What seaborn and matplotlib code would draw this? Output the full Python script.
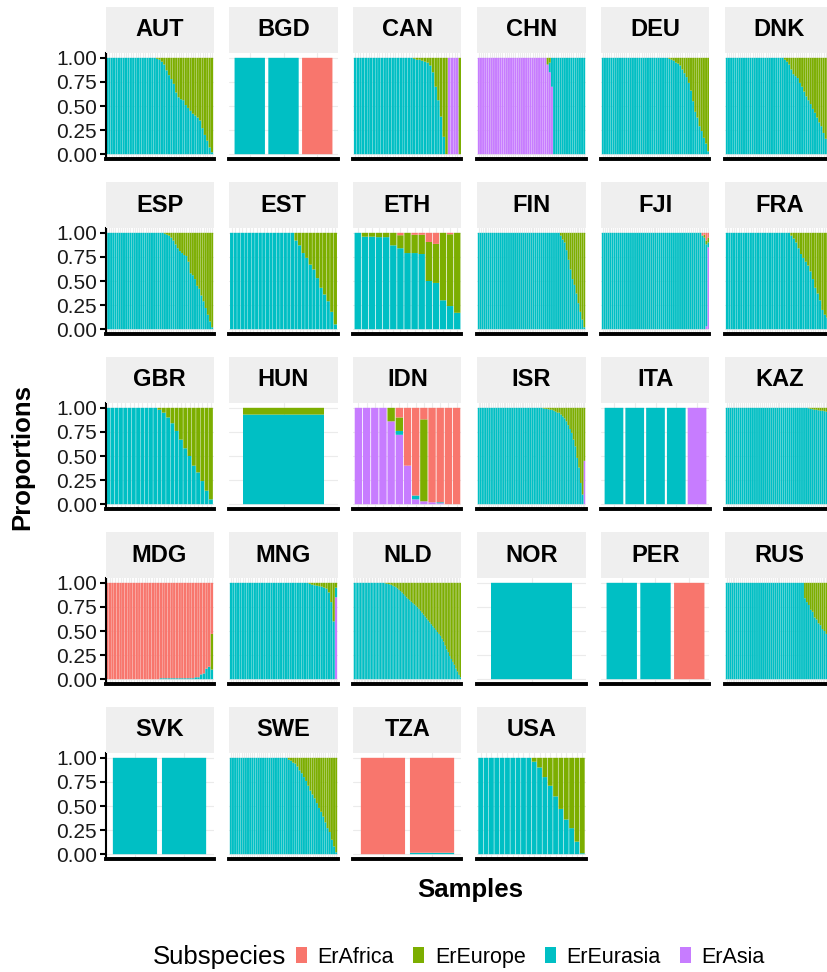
import numpy as np
import pandas as pd
import matplotlib
matplotlib.use("Agg")
import matplotlib.pyplot as plt
from matplotlib.patches import Patch
import seaborn as sns

# Legend / stacking order: first level sits on top of each bar
SUBSPECIES = ["ErAfrica", "ErEurope", "ErEurasia", "ErAsia"]
COLORS = ["#F8766D", "#7CAE00", "#00BFC4", "#C77CFF"]

COUNTRIES = ["AUT", "BGD", "CAN", "CHN", "DEU", "DNK",
             "ESP", "EST", "ETH", "FIN", "FJI", "FRA",
             "GBR", "HUN", "IDN", "ISR", "ITA", "KAZ",
             "MDG", "MNG", "NLD", "NOR", "PER", "RUS",
             "SVK", "SWE", "TZA", "USA"]

Y_TICKS = [0.0, 0.25, 0.5, 0.75, 1.0]
Y_TICK_LABELS = ["0.00", "0.25", "0.50", "0.75", "1.00"]

# Ancestry proportions per sample (samples in plotting order).
# ErEurope takes whatever share the listed components leave.
AUT_EURASIA = [1.0] * 21 + [0.99, 0.98, 0.96, 0.93, 0.87, 0.82, 0.78, 0.73, 0.64, 0.59,
                            0.57, 0.56, 0.51, 0.48, 0.45, 0.42, 0.40, 0.38, 0.35, 0.27,
                            0.20, 0.14, 0.07, 0.02]
BGD_EURASIA = [1.0, 1.0, 0.0]
BGD_AFRICA = [0.0, 0.0, 1.0]
CAN_EURASIA = [1.0] * 22 + [0.99, 0.98, 0.98, 0.97, 0.96, 0.95, 0.92, 0.85, 0.70, 0.56,
                            0.39, 0.18, 0.0, 0.0, 0.0, 0.0, 0.0, 0.0]
CAN_ASIA = [0.0] * 35 + [1.0, 1.0, 1.0, 1.0, 0.0]
CHN_ASIA = [1.0] * 32 + [0.93, 0.85, 0.70] + [0.0] * 15
CHN_EURASIA = [0.0] * 32 + [0.0, 0.10, 0.30] + [1.0] * 15
DEU_EURASIA = [1.0] * 31 + [0.99, 0.98, 0.97, 0.95, 0.94, 0.92, 0.88, 0.84, 0.80, 0.74,
                            0.66, 0.55, 0.44, 0.38, 0.29, 0.24, 0.17, 0.11, 0.03]
DNK_EURASIA = [1.0] * 27 + [0.98, 0.96, 0.93, 0.88, 0.83, 0.81, 0.79, 0.74, 0.70, 0.65,
                            0.60, 0.56, 0.52, 0.47, 0.43, 0.38, 0.33, 0.29, 0.22, 0.16,
                            0.11, 0.06, 0.02]
ESP_EURASIA = [1.0] * 27 + [0.99, 0.98, 0.97, 0.95, 0.92, 0.88, 0.84, 0.81, 0.79, 0.77,
                            0.76, 0.70, 0.58, 0.56, 0.52, 0.45, 0.42, 0.35, 0.29, 0.22,
                            0.15, 0.08, 0.02]
EST_EURASIA = [1.0] * 18 + [0.92, 0.87, 0.79, 0.74, 0.67, 0.62, 0.53, 0.43, 0.36, 0.29,
                            0.18, 0.05]
ETH_EURASIA = [1.0, 0.96, 0.96, 0.955, 0.955, 0.87, 0.84, 0.79, 0.79, 0.78,
               0.50, 0.48, 0.30, 0.24, 0.17]
ETH_AFRICA = [0.0, 0.0, 0.0, 0.0, 0.0, 0.0, 0.025, 0.0, 0.02, 0.02,
              0.095, 0.115, 0.0, 0.015, 0.0]
FIN_EURASIA = [1.0] * 42 + [0.97, 0.93, 0.90, 0.82, 0.72, 0.62, 0.52, 0.46, 0.37, 0.27,
                            0.18, 0.10, 0.02]
FJI_EURASIA = [1.0] * 51 + [0.97, 0.95, 0.85, 0.05]
FJI_AFRICA = [0.0] * 51 + [0.03, 0.02, 0.08, 0.05]
FJI_ASIA = [0.0] * 51 + [0.0, 0.0, 0.03, 0.85]
FRA_EURASIA = [1.0] * 27 + [0.97, 0.94, 0.90, 0.84, 0.78, 0.74, 0.70, 0.66, 0.60, 0.52,
                            0.43, 0.37, 0.30, 0.20, 0.15, 0.12, 0.08, 0.03]
GBR_EURASIA = [1.0] * 12 + [0.98, 0.95, 0.90, 0.84, 0.76, 0.67, 0.58, 0.50, 0.40, 0.33,
                            0.24, 0.14, 0.05]
HUN_EURASIA = [0.93]
IDN_ASIA = [1.0, 1.0, 1.0, 1.0, 0.86, 0.72, 0.40, 0.05, 0.03, 0.02, 0.01, 0.0, 0.0]
IDN_AFRICA = [0.0, 0.0, 0.0, 0.0, 0.0, 0.10, 0.60, 0.91, 0.12, 0.98, 0.98, 1.0, 1.0]
IDN_EURASIA = [0.0, 0.0, 0.0, 0.0, 0.0, 0.04, 0.0, 0.04, 0.0, 0.0, 0.01, 0.0, 0.0]
ISR_EURASIA = [1.0] * 36 + [0.995, 0.99, 0.99, 0.985, 0.98, 0.98, 0.97, 0.96, 0.95, 0.95,
                            0.93, 0.91, 0.89, 0.86, 0.82, 0.78, 0.74, 0.67, 0.60, 0.48,
                            0.38, 0.22, 0.10, 0.0]
ISR_ASIA = [0.0] * 59 + [0.45]
ITA_EURASIA = [1.0, 1.0, 1.0, 1.0, 0.0]
ITA_ASIA = [0.0, 0.0, 0.0, 0.0, 1.0]
KAZ_EURASIA = [1.0] * 42 + [0.995, 0.99, 0.985, 0.98, 0.98, 0.975, 0.97, 0.97, 0.965, 0.96,
                            0.96, 0.95, 0.94]
MDG_EURASIA = [0.0] * 20 + [0.01] * 13 + [0.02, 0.02, 0.05, 0.06, 0.11, 0.13, 0.10]
MDG_AFRICA = [1.0] * 20 + [0.99] * 13 + [0.98, 0.98, 0.95, 0.94, 0.89, 0.87, 0.53]
MNG_EURASIA = [1.0] * 33 + [0.99, 0.98, 0.975, 0.97, 0.965, 0.96, 0.95, 0.94, 0.90, 0.80,
                            0.60, 0.10]
MNG_ASIA = [0.0] * 44 + [0.85]
NLD_EURASIA = [1.0] * 20 + [0.995, 0.99, 0.988, 0.984, 0.98, 0.97, 0.963, 0.955, 0.943, 0.928,
                            0.914, 0.90, 0.883, 0.865, 0.848, 0.833, 0.819, 0.804, 0.79, 0.776,
                            0.762, 0.747, 0.73, 0.71, 0.69, 0.67, 0.65, 0.63, 0.61, 0.59,
                            0.57, 0.55, 0.53, 0.51, 0.49, 0.47, 0.45, 0.42, 0.39, 0.35,
                            0.31, 0.28, 0.24, 0.21, 0.18, 0.15, 0.11, 0.08, 0.045, 0.02]
NOR_EURASIA = [1.0]
PER_EURASIA = [1.0, 1.0, 0.0]
PER_AFRICA = [0.0, 0.0, 1.0]
RUS_EURASIA = [1.0] * 40 + [0.84, 0.80, 0.77, 0.72, 0.70, 0.64, 0.62, 0.58, 0.56, 0.52,
                            0.50, 0.47, 0.45, 0.43, 0.40]
SVK_EURASIA = [1.0, 1.0]
SWE_EURASIA = [1.0] * 27 + [0.98, 0.97, 0.95, 0.94, 0.91, 0.87, 0.84, 0.80, 0.76, 0.71,
                            0.66, 0.62, 0.58, 0.53, 0.48, 0.44, 0.39, 0.33, 0.27, 0.23,
                            0.15, 0.08, 0.02]
TZA_AFRICA = [1.0, 0.985]
TZA_EURASIA = [0.0, 0.015]
USA_EURASIA = [1.0] * 10 + [0.96, 0.90, 0.80, 0.71, 0.60, 0.47, 0.36, 0.27, 0.13, 0.01]

COMPONENTS = {
    "AUT": {"ErEurasia": AUT_EURASIA},
    "BGD": {"ErEurasia": BGD_EURASIA, "ErAfrica": BGD_AFRICA},
    "CAN": {"ErEurasia": CAN_EURASIA, "ErAsia": CAN_ASIA},
    "CHN": {"ErEurasia": CHN_EURASIA, "ErAsia": CHN_ASIA},
    "DEU": {"ErEurasia": DEU_EURASIA},
    "DNK": {"ErEurasia": DNK_EURASIA},
    "ESP": {"ErEurasia": ESP_EURASIA},
    "EST": {"ErEurasia": EST_EURASIA},
    "ETH": {"ErEurasia": ETH_EURASIA, "ErAfrica": ETH_AFRICA},
    "FIN": {"ErEurasia": FIN_EURASIA},
    "FJI": {"ErEurasia": FJI_EURASIA, "ErAfrica": FJI_AFRICA, "ErAsia": FJI_ASIA},
    "FRA": {"ErEurasia": FRA_EURASIA},
    "GBR": {"ErEurasia": GBR_EURASIA},
    "HUN": {"ErEurasia": HUN_EURASIA},
    "IDN": {"ErEurasia": IDN_EURASIA, "ErAfrica": IDN_AFRICA, "ErAsia": IDN_ASIA},
    "ISR": {"ErEurasia": ISR_EURASIA, "ErAsia": ISR_ASIA},
    "ITA": {"ErEurasia": ITA_EURASIA, "ErAsia": ITA_ASIA},
    "KAZ": {"ErEurasia": KAZ_EURASIA},
    "MDG": {"ErEurasia": MDG_EURASIA, "ErAfrica": MDG_AFRICA},
    "MNG": {"ErEurasia": MNG_EURASIA, "ErAsia": MNG_ASIA},
    "NLD": {"ErEurasia": NLD_EURASIA},
    "NOR": {"ErEurasia": NOR_EURASIA},
    "PER": {"ErEurasia": PER_EURASIA, "ErAfrica": PER_AFRICA},
    "RUS": {"ErEurasia": RUS_EURASIA},
    "SVK": {"ErEurasia": SVK_EURASIA},
    "SWE": {"ErEurasia": SWE_EURASIA},
    "TZA": {"ErEurasia": TZA_EURASIA, "ErAfrica": TZA_AFRICA},
    "USA": {"ErEurasia": USA_EURASIA},
}


def panel_frame(parts):
    n = len(next(iter(parts.values())))
    shares = {}
    for name in ["ErAfrica", "ErEurasia", "ErAsia"]:
        shares[name] = np.asarray(parts.get(name, [0.0] * n), dtype=float)
    rest = 1.0 - shares["ErAfrica"] - shares["ErEurasia"] - shares["ErAsia"]
    shares["ErEurope"] = np.clip(rest, 0.0, 1.0)
    samples = np.arange(1, n + 1)
    frames = [pd.DataFrame({"sample": samples, "subspecies": name,
                            "proportion": shares[name]}) for name in SUBSPECIES]
    return pd.concat(frames, ignore_index=True), n


sns.set_theme(style="white")
plt.rcParams["font.family"] = ["Liberation Sans", "DejaVu Sans"]
plt.rcParams["text.color"] = "black"
palette = dict(zip(SUBSPECIES, COLORS))

W, H = 828, 972
fig = plt.figure(figsize=(W / 100, H / 100), dpi=100)
fig.patch.set_facecolor("white")

PANEL_W, PANEL_H, STRIP_H = 108, 106, 46
COL_X = [105.5 + 124 * i for i in range(6)]
ROW_TOP = [53 + 175 * j for j in range(5)]

for idx, country in enumerate(COUNTRIES):
    r, c = divmod(idx, 6)
    x0, top = COL_X[c], ROW_TOP[r]
    ax = fig.add_axes([x0 / W, 1 - (top + PANEL_H) / H, PANEL_W / W, PANEL_H / H])
    df, n = panel_frame(COMPONENTS[country])
    sns.histplot(data=df, x="sample", weights="proportion", hue="subspecies",
                 hue_order=SUBSPECIES, palette=palette, multiple="stack",
                 discrete=True, shrink=0.9, alpha=1, linewidth=0,
                 edgecolor="none", snap=False, legend=False, ax=ax)
    ax.set_xlim(0.4, n + 0.6)
    ax.set_ylim(-0.05, 1.05)
    ax.set_xlabel("")
    ax.set_ylabel("")
    ax.set_facecolor("white")
    ax.set_axisbelow(True)
    ax.set_xticks(range(1, n + 1))
    ax.set_xticklabels([])
    ax.set_yticks(Y_TICKS)
    ax.grid(True, color="#EBEBEB", linewidth=0.8)
    ax.tick_params(axis="x", length=0)
    for side in ["top", "right"]:
        ax.spines[side].set_visible(False)
    ax.spines["bottom"].set_color("black")
    ax.spines["bottom"].set_linewidth(2.8)
    if c == 0:
        ax.set_yticklabels(Y_TICK_LABELS)
        ax.spines["left"].set_color("black")
        ax.spines["left"].set_linewidth(1.5)
        ax.tick_params(axis="y", length=4, width=1.5, color="black", pad=2,
                       labelsize=15, labelcolor="#1A1A1A", left=True)
    else:
        ax.spines["left"].set_visible(False)
        ax.set_yticklabels([])
        ax.tick_params(axis="y", length=0)

    sax = fig.add_axes([x0 / W, 1 - top / H, PANEL_W / W, STRIP_H / H])
    sax.set_facecolor("#EFEFEF")
    sax.set_xticks([])
    sax.set_yticks([])
    for s in sax.spines.values():
        s.set_visible(False)
    sax.text(0.5, 0.5, country, ha="center", va="center", fontsize=17,
             fontweight="bold", color="black", transform=sax.transAxes)

fig.text(22 / W, 1 - 457 / H, "Proportions", rotation=90, ha="center", va="center",
         fontsize=18.5, fontweight="bold", color="black")
fig.text(470 / W, 1 - 890 / H, "Samples", ha="center", va="center",
         fontsize=18.5, fontweight="bold", color="black")

fig.text(153 / W, 1 - 957 / H, "Subspecies", ha="left", va="center", fontsize=18.5,
         color="black")
handles = [Patch(facecolor=col, edgecolor="none") for col in COLORS]
leg = fig.legend(handles, SUBSPECIES, loc="center left",
                 bbox_to_anchor=(296 / W, 1 - 957 / H), ncol=4, frameon=False,
                 fontsize=15.5, handlelength=0.5, handleheight=0.8, handletextpad=0.5,
                 columnspacing=0.9, borderpad=0, borderaxespad=0)
for t in leg.get_texts():
    t.set_color("black")

fig.savefig("out.png", dpi=100, facecolor="white")
